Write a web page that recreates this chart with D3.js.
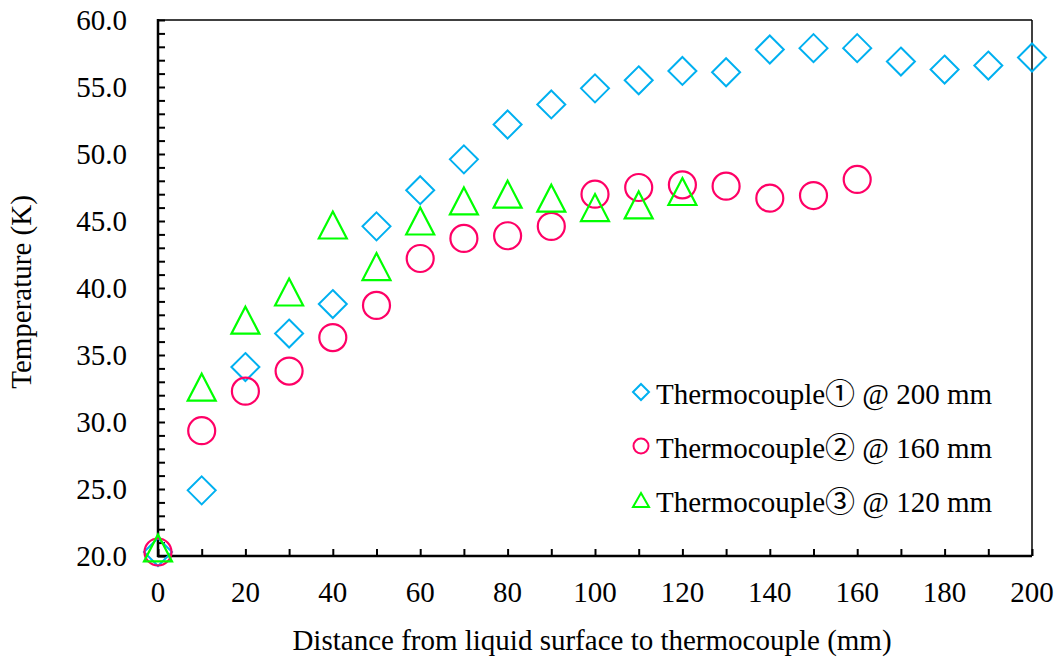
<!DOCTYPE html>
<html><head><meta charset="utf-8">
<script src="https://cdn.jsdelivr.net/npm/d3@7"></script>
<style>
html,body{margin:0;padding:0;background:#fff;}
svg{display:block;font-family:"Liberation Serif","Times New Roman",serif;}
</style></head>
<body><svg id="c" width="1060" height="666"></svg>
<script>
const distances = [0,10,20,30,40,50,60,70,80,90,100,110,120,130,140,150,160,170,180,190,200];
const tc1 = [20.3,24.9,34.1,36.6,38.8,44.6,47.3,49.6,52.2,53.7,54.9,55.5,56.2,56.1,57.8,57.9,57.9,56.9,56.3,56.6,57.2];
const tc2 = [20.3,29.35,32.3,33.8,36.3,38.7,42.2,43.7,43.9,44.6,47.0,47.5,47.7,47.6,46.7,46.9,48.1];
const tc3 = [20.6,32.6,37.6,39.7,44.7,41.6,45.0,46.5,47.0,46.7,46.0,46.2,47.2];
const seriesPrefix = ["Thermocouple","Thermocouple","Thermocouple"];
const seriesMark = ["\u2460","\u2461","\u2462"];
const seriesSuffix = [" @ 200 mm"," @ 160 mm"," @ 120 mm"];
const xTicks = [0,20,40,60,80,100,120,140,160,180,200];
const yTicks = [20,25,30,35,40,45,50,55,60];
const colors = ["#00B0F0","#FF0066","#00FF00"];

const svg = d3.select("#c");
const L=158,R=1032,T=20,B=556;
const FS=29;
const x = d3.scaleLinear().domain([0,200]).range([L,R]);
const y = d3.scaleLinear().domain([20,60]).range([B,T]);

// frame top/right
svg.append("line").attr("x1",L).attr("x2",R).attr("y1",T).attr("y2",T).attr("stroke","#000").attr("stroke-width",1.5);
svg.append("line").attr("x1",R).attr("x2",R).attr("y1",T).attr("y2",B).attr("stroke","#000").attr("stroke-width",1.5);

// y axis
const yAx = svg.append("g").attr("transform",`translate(${L},0)`)
  .call(d3.axisRight(y).tickValues(d3.range(20,61,1)).tickSize(7).tickFormat(""));
yAx.select(".domain").remove();
yAx.selectAll("line").attr("stroke","#000").attr("stroke-width",2);
svg.append("line").attr("x1",L).attr("x2",L).attr("y1",T-1).attr("y2",B+1).attr("stroke","#000").attr("stroke-width",2.5);
svg.append("g").selectAll("text").data(yTicks).join("text")
  .attr("x",127).attr("y",d=>y(d)+10).attr("text-anchor","end")
  .attr("font-size",FS).attr("fill","#000").text(d=>d.toFixed(1));

// x axis
const xAx = svg.append("g").attr("transform",`translate(0,${B})`)
  .call(d3.axisTop(x).tickValues(d3.range(0,201,10)).tickSize(7).tickFormat(""));
xAx.select(".domain").remove();
xAx.selectAll("line").attr("stroke","#000").attr("stroke-width",2);
svg.append("line").attr("x1",L-1).attr("x2",R).attr("y1",B).attr("y2",B).attr("stroke","#000").attr("stroke-width",2.5);
svg.append("g").selectAll("text").data(xTicks).join("text")
  .attr("x",d=>x(d)).attr("y",602).attr("text-anchor","middle")
  .attr("font-size",FS).attr("fill","#000").text(d=>d);

// axis titles
svg.append("text").attr("x",592).attr("y",650).attr("text-anchor","middle")
  .attr("font-size",FS).text("Distance from liquid surface to thermocouple (mm)");
svg.append("text").attr("transform","translate(31,292) rotate(-90)").attr("text-anchor","middle")
  .attr("font-size",FS).text("Temperature (K)");

// marker paths
function diamond(s){return `M0,${-s}L${s},0L0,${s}L${-s},0Z`;}
function triangle(w,h){return `M0,${-h/2}L${w/2},${h/2}L${-w/2},${h/2}Z`;}

const g = svg.append("g");
g.selectAll("path.d").data(tc1).join("path").attr("class","d")
  .attr("d",diamond(14)).attr("transform",(d,i)=>`translate(${x(distances[i])},${y(d)})`)
  .attr("fill","none").attr("stroke",colors[0]).attr("stroke-width",2);
g.selectAll("circle").data(tc2).join("circle")
  .attr("cx",(d,i)=>x(distances[i])).attr("cy",d=>y(d)).attr("r",13.5)
  .attr("fill","none").attr("stroke",colors[1]).attr("stroke-width",2.2);
g.selectAll("path.t").data(tc3).join("path").attr("class","t")
  .attr("d",triangle(28,27)).attr("transform",(d,i)=>`translate(${x(distances[i])},${y(d)})`)
  .attr("fill","none").attr("stroke",colors[2]).attr("stroke-width",2.2);

// legend
const lg = svg.append("g");
const rows=[392,446,500];
lg.append("path").attr("d",diamond(8)).attr("transform",`translate(641,${rows[0]})`).attr("fill","none").attr("stroke",colors[0]).attr("stroke-width",2);
lg.append("circle").attr("cx",641).attr("cy",rows[1]).attr("r",7.5).attr("fill","none").attr("stroke",colors[1]).attr("stroke-width",2);
lg.append("path").attr("d",triangle(16,14)).attr("transform",`translate(641,${rows[2]})`).attr("fill","none").attr("stroke",colors[2]).attr("stroke-width",2);
const lt = lg.selectAll("text").data(seriesPrefix).join("text")
  .attr("x",656).attr("y",(d,i)=>rows[i]+12).attr("font-size",FS);
lt.append("tspan").text(d=>d);
lt.append("tspan").attr("font-family","'Noto Sans CJK JP'").attr("font-size",30).text((d,i)=>seriesMark[i]);
lt.append("tspan").text((d,i)=>seriesSuffix[i]);
</script></body></html>
